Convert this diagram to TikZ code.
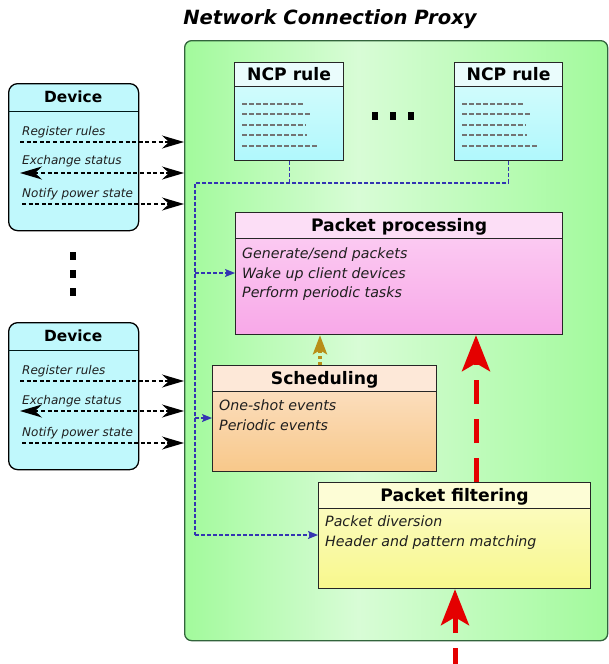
\documentclass[tikz,border=0pt]{standalone}
\usepackage{fontspec}
\setmainfont{DejaVu Sans}
\usetikzlibrary{arrows.meta, calc}
\definecolor{ncpgreen}{RGB}{162,250,156}
\definecolor{ncplight}{RGB}{216,252,214}
\definecolor{ncpedge}{RGB}{50,100,60}
\definecolor{devcyan}{RGB}{192,248,252}
\definecolor{rulehead}{RGB}{234,252,252}
\definecolor{ruletop}{RGB}{218,252,252}
\definecolor{rulebot}{RGB}{176,248,252}
\definecolor{pphead}{RGB}{252,222,246}
\definecolor{pptop}{RGB}{252,210,244}
\definecolor{ppbot}{RGB}{248,168,232}
\definecolor{schhead}{RGB}{253,232,216}
\definecolor{schtop}{RGB}{252,228,204}
\definecolor{schbot}{RGB}{248,200,138}
\definecolor{pfhead}{RGB}{253,253,214}
\definecolor{pftop}{RGB}{252,252,204}
\definecolor{pfbot}{RGB}{248,248,140}
\definecolor{ctlblue}{RGB}{52,52,178}
\definecolor{flowred}{RGB}{228,0,0}
\definecolor{tickgold}{RGB}{184,142,24}
\pgfdeclarehorizontalshading{ncpshade}{100bp}{color(0bp)=(ncpgreen); color(25bp)=(ncpgreen);
  color(45.5bp)=(ncplight); color(75bp)=(ncpgreen); color(100bp)=(ncpgreen)}
\tikzset{devtip/.tip={Stealth[length=22pt,width=13pt,inset=7pt]}}

\begin{document}
\begin{tikzpicture}[x=1pt, y=-1pt,
    box/.style={draw=black!85, line width=1.2pt, anchor=north west, inner sep=0pt},
    head/.style={box, font=\bfseries\fontsize{17.2}{20}\selectfont, text height=12.5pt, text depth=0pt},
    body/.style={anchor=north west, inner sep=0pt, align=left, text=black!88,
      font=\itshape\fontsize{14.2}{19.5}\selectfont},
    devlabel/.style={anchor=base west, inner sep=0pt, text=black!88, font=\itshape\fontsize{12}{14}\selectfont},
    devarrow/.style={line width=1.3pt, dash pattern=on 4pt off 2.6pt},
    ctl/.style={ctlblue, line width=1.2pt, dash pattern=on 4pt off 2pt},
    ctlarrow/.style={ctl, -{Stealth[length=10pt,width=8pt,inset=2pt]}},
    flow/.style={flowred, line width=5pt, dash pattern=on 24pt off 15pt, -{Stealth[length=36pt,width=28pt,inset=8pt]}},
    stub/.style={black!55, line width=2pt, dash pattern=on 5pt off 2pt}]
  \useasboundingbox (0,0) rectangle (608,664);

  % proxy frame
  \node[anchor=base, font=\bfseries\itshape\fontsize{19.6}{22}\selectfont] (title) at (330,24) {Network Connection Proxy};
  \node[draw=ncpedge, line width=1.3pt, rounded corners=7pt, shading=ncpshade, anchor=north west,
    minimum width=423pt, minimum height=600pt, inner sep=0pt] (ncp) at (184,40) {};

  % rules
  \node[box, top color=ruletop, bottom color=rulebot, minimum width=109pt, minimum height=98pt] (rule1) at (234,62) {};
  \node[head, fill=rulehead, minimum width=109pt, minimum height=24pt] (rule1hd) at (234,62) {NCP rule};
  \node[box, top color=ruletop, bottom color=rulebot, minimum width=108pt, minimum height=98pt] (rule2) at (454,62) {};
  \node[head, fill=rulehead, minimum width=108pt, minimum height=24pt] (rule2hd) at (454,62) {NCP rule};
  \foreach \dx in {0,220}
    \foreach \y/\xe in {104/304, 114/311, 125/306, 135/307, 146/318}
      \draw[stub] ({242+\dx},\y) -- ({\xe+\dx},\y);
  \foreach \x in {372,390,408}
    \fill (\x,112) rectangle ++(6,8);

  % processing, scheduling, filtering
  \node[box, top color=pptop, bottom color=ppbot, minimum width=327pt, minimum height=122pt] (pp) at (235,212) {};
  \node[head, fill=pphead, minimum width=327pt, minimum height=26pt] (pphd) at (235,212) {Packet processing};
  \node[body] (pptxt) at (242,248) {Generate/send packets\\Wake up client devices\\Perform periodic tasks};

  \node[box, top color=schtop, bottom color=schbot, minimum width=224pt, minimum height=106pt] (sched) at (212,365) {};
  \node[head, fill=schhead, minimum width=224pt, minimum height=26pt] (schedhd) at (212,365) {Scheduling};
  \node[body] (schedtxt) at (219,400) {One-shot events\\Periodic events};

  \node[box, top color=pftop, bottom color=pfbot, minimum width=272pt, minimum height=106pt] (pf) at (318,482) {};
  \node[head, fill=pfhead, minimum width=272pt, minimum height=26pt] (pfhd) at (318,482) {Packet filtering};
  \node[body] (pftxt) at (325,516) {Packet diversion\\Header and pattern matching};

  % rule distribution
  \coordinate (busL) at (195,183);
  \coordinate (tap1) at (195,273);
  \coordinate (tap2) at (195,418);
  \coordinate (tap3) at (195,535);
  \draw[ctl] (rule2.south) |- (busL) -- (tap3);
  \draw[ctl] (rule1.south) -- (rule1.south |- busL);
  \draw[ctlarrow] (tap1) -- (tap1 -| pp.west);
  \draw[ctlarrow] (tap2) -- (tap2 -| sched.west);
  \draw[ctlarrow] (tap3) -- (tap3 -| pf.west);

  % packet and timer flow
  \coordinate (timer) at (320,365);
  \draw[tickgold, line width=4pt, dash pattern=on 3pt off 3pt,
    -{Stealth[length=19pt,width=14pt,inset=4pt]}] (timer) -- (timer |- pp.south);
  \coordinate (pfout) at (476,482);
  \draw[flow] (pfout) -- (pfout |- pp.south);
  \coordinate (wire) at (455,664);
  \draw[flow, dash phase=8pt] (wire) -- (wire |- pf.south);

  % devices
  \foreach \n/\y in {1/83, 2/322} {
    \node[draw=black, line width=1.3pt, rounded corners=9pt, fill=devcyan, anchor=north west,
      minimum width=130pt, minimum height=147pt, inner sep=0pt] (dev\n) at (8,\y) {};
    \node[anchor=north west, inner sep=0pt, minimum width=130pt, minimum height=28pt,
      font=\bfseries\fontsize{15.4}{18}\selectfont, text height=11.2pt, text depth=0pt] (dev\n hd) at (8,\y) {Device};
    \draw[black!80!teal, line width=1.8pt] (dev\n hd.south west) -- (dev\n hd.south east);
  }
  \node[devlabel] (reg1) at (22,135) {Register rules};
  \node[devlabel] (exc1) at (22,164) {Exchange status};
  \node[devlabel] (pow1) at (22,197) {Notify power state};
  \node[devlabel] (reg2) at (22,374) {Register rules};
  \node[devlabel] (exc2) at (22,404) {Exchange status};
  \node[devlabel] (pow2) at (22,436) {Notify power state};
  \coordinate (r1) at (20,142); \coordinate (e1) at (20,173); \coordinate (p1) at (22,204);
  \coordinate (r2) at (20,381); \coordinate (e2) at (20,411); \coordinate (p2) at (22,443);
  \foreach \c in {r1,p1,r2,p2}
    \draw[devarrow, -devtip] (\c) -- (\c -| ncp.west);
  \foreach \c in {e1,e2}
    \draw[devarrow, devtip-devtip] (\c) -- (\c -| ncp.west);
  \foreach \y in {252,270,288}
    \fill (70,\y) rectangle ++(6,8);
\end{tikzpicture}
\end{document}
